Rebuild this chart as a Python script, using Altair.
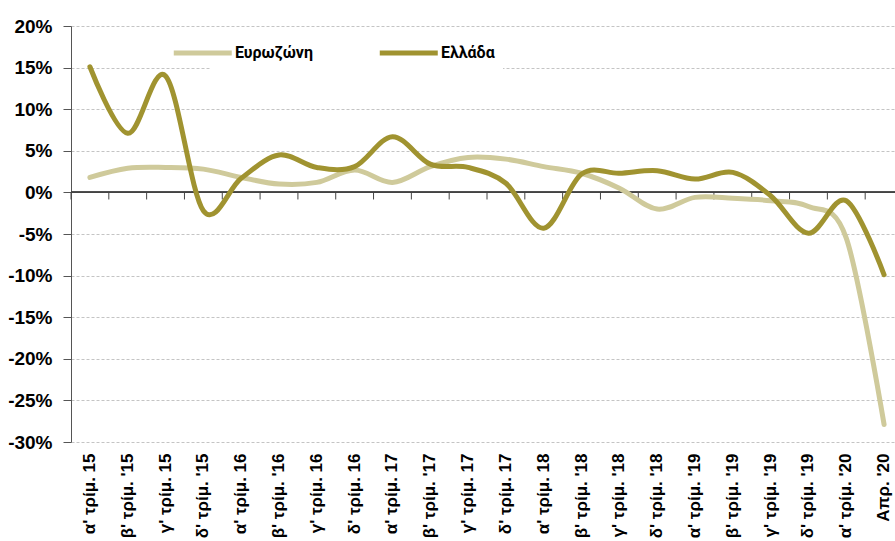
import altair as alt
import pandas as pd

categories = [
    "α' τρίμ. 15", "β' τρίμ. '15", "γ' τρίμ. 15", "δ' τρίμ. '15",
    "α' τρίμ. 16", "β' τρίμ. '16", "γ' τρίμ. 16", "δ' τρίμ. 16",
    "α' τρίμ. 17", "β' τρίμ. '17", "γ' τρίμ. 17", "δ' τρίμ. 17",
    "α' τρίμ. 18", "β' τρίμ. '18", "γ' τρίμ. '18", "δ' τρίμ. '18",
    "α' τρίμ. '19", "β' τρίμ. '19", "γ' τρίμ. '19", "δ' τρίμ. '19",
    "α' τρίμ. '20", "Απρ. '20",
]
eurozone = [1.8, 2.9, 3.0, 2.8, 1.8, 1.0, 1.2, 2.7, 1.2, 3.1, 4.2, 4.0,
            3.1, 2.3, 0.5, -2.0, -0.6, -0.7, -1.0, -1.7, -5.5, -27.9]
greece = [15.1, 7.1, 14.0, -2.2, 1.7, 4.5, 3.0, 3.1, 6.7, 3.4, 3.0, 1.1,
          -4.3, 2.2, 2.3, 2.6, 1.6, 2.4, -0.4, -4.9, -1.0, -9.9]
series_names = ["Ευρωζώνη", "Ελλάδα"]
series_colors = ["#CFCA9B", "#A09330"]
y_ticks = [-30, -25, -20, -15, -10, -5, 0, 5, 10, 15, 20]

rows = []
for name, vals in zip(series_names, [eurozone, greece]):
    for c, v in zip(categories, vals):
        rows.append({"cat": c, "series": name, "value": v})
df = pd.DataFrame(rows)
cat_df = pd.DataFrame({"cat": categories})

# the plot area runs slightly past the right edge of the picture, as in the original
x_scale = alt.Scale(type="band", domain=categories, paddingInner=0, paddingOuter=0,
                    range=[0, 832])
y_scale = alt.Scale(domain=[-30, 20], nice=False, zero=False)

color = alt.Color(
    "series:N",
    scale=alt.Scale(domain=series_names, range=series_colors),
    legend=alt.Legend(
        title=None,
        orient="none",
        legendX=140,
        legendY=11,
        direction="horizontal",
        symbolType="M-19,0L1.7,0",
        symbolSize=31.4,
        symbolStrokeWidth=5,
        labelFont="Roboto",
        labelFontWeight="bold",
        labelFontSize=16,
        labelColor="black",
        labelOffset=0,
        columnPadding=56,
        fillColor="white",
        padding=8,
    ),
)

x_enc = alt.X(
    "cat:N",
    scale=x_scale,
    sort=categories,
    bandPosition=0.5,
    axis=alt.Axis(
        title=None,
        labelAngle=-90,
        labelFont="Liberation Sans",
        labelFontWeight="bold",
        labelFontSize=17,
        labelColor="black",
        labelPadding=11,
        domain=False,
        ticks=False,
        grid=False,
        labelOverlap=False,
    ),
)
y_enc = alt.Y(
    "value:Q",
    scale=y_scale,
    axis=alt.Axis(
        title=None,
        values=y_ticks,
        labelExpr="datum.value + '%'",
        labelFont="Liberation Sans",
        labelFontWeight="bold",
        labelFontSize=19,
        labelColor="black",
        labelPadding=11,
        tickSize=8,
        tickColor="#555555",
        domainColor="#555555",
        grid=True,
        gridColor="#c4c4c4",
        gridDash=[3, 2],
        gridWidth=1,
    ),
)

lines_euro = alt.Chart(df).transform_filter(alt.datum.series == series_names[0]).mark_line(
    interpolate="cardinal", strokeWidth=5, strokeCap="round"
).encode(x=x_enc, y=y_enc, color=color)
lines_gr = alt.Chart(df).transform_filter(alt.datum.series == series_names[1]).mark_line(
    interpolate="cardinal", strokeWidth=5, strokeCap="round"
).encode(x=x_enc, y=y_enc, color=color)

zero_line = alt.Chart(cat_df).mark_rule(color="#444444", strokeWidth=1).encode(
    y=alt.datum(0)
)
ticks = alt.Chart(cat_df).mark_rule(color="#444444", strokeWidth=1).encode(
    x=alt.X("cat:N", scale=x_scale, sort=categories, bandPosition=0),
    y=alt.datum(0),
    y2=alt.datum(-0.85),
)

chart = (
    alt.layer(zero_line, ticks, lines_euro, lines_gr)
    .properties(
        width=824,
        height=416,
        autosize=alt.AutoSizeParams(type="none"),
        padding={"left": 71, "top": 26, "right": 0, "bottom": 99},
        background="white",
    )
    .configure_view(stroke=None)
)

chart.save("out.html", embed_options={"renderer": "svg", "actions": False})
